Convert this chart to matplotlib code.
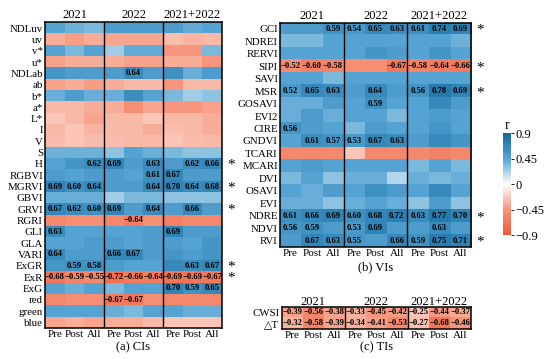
import numpy as np
import matplotlib
matplotlib.use("Agg")
import matplotlib.pyplot as plt
from matplotlib.colors import LinearSegmentedColormap

plt.rcParams['font.family'] = ['Liberation Serif', 'DejaVu Sans']

years = ['2021', '2022', '2021+2022']
stages = ['Pre', 'Post', 'All']

ci_labels = ['NDLuv', 'uv', 'v*', 'u*', 'NDLab', 'ab', 'b*', 'a*', 'L*', 'I', 'V', 'S', 'H',
             'RGBVI', 'MGRVI', 'GBVI', 'GRVI', 'RGRI', 'GLI', 'GLA', 'VARI', 'ExGR', 'ExR',
             'ExG', 'red', 'green', 'blue']
ci_vals = [
    [0.45, 0.38, 0.35, 0.50, 0.50, 0.50, 0.50, 0.42, 0.45],
    [-0.35, -0.42, -0.35, -0.38, -0.38, -0.38, -0.28, -0.32, -0.30],
    [0.45, 0.35, 0.45, 0.25, 0.42, 0.42, -0.45, -0.45, 0.35],
    [-0.40, -0.35, -0.35, -0.35, -0.40, -0.40, -0.35, -0.35, -0.45],
    [0.55, 0.50, 0.50, 0.50, 0.64, 0.50, 0.60, 0.40, 0.50],
    [-0.40, -0.35, -0.42, -0.35, -0.30, -0.30, -0.45, -0.30, -0.30],
    [0.40, 0.50, 0.40, 0.40, 0.62, 0.45, 0.35, 0.25, 0.30],
    [-0.30, -0.30, -0.35, -0.35, -0.50, -0.38, -0.45, -0.45, -0.40],
    [-0.25, -0.30, -0.38, -0.30, -0.30, -0.25, -0.30, -0.30, -0.35],
    [-0.30, -0.25, -0.32, -0.30, -0.30, -0.35, -0.28, -0.30, -0.35],
    [-0.28, -0.25, -0.28, -0.28, -0.30, -0.30, -0.25, -0.28, -0.30],
    [0.38, 0.38, 0.38, 0.30, 0.45, 0.40, 0.35, 0.30, 0.30],
    [0.45, 0.55, 0.62, 0.69, 0.50, 0.63, 0.50, 0.62, 0.66],
    [0.50, 0.45, 0.50, 0.50, 0.45, 0.61, 0.67, 0.50, 0.50],
    [0.69, 0.60, 0.64, 0.50, 0.50, 0.64, 0.70, 0.64, 0.68],
    [0.40, 0.40, 0.40, 0.25, 0.35, 0.35, 0.30, 0.30, 0.30],
    [0.67, 0.62, 0.60, 0.69, 0.50, 0.64, 0.50, 0.66, 0.50],
    [-0.55, -0.50, -0.50, -0.55, -0.64, -0.50, -0.60, -0.55, -0.55],
    [0.63, 0.45, 0.45, 0.45, 0.45, 0.50, 0.69, 0.50, 0.50],
    [0.45, 0.45, 0.50, 0.50, 0.45, 0.50, 0.50, 0.45, 0.55],
    [0.64, 0.50, 0.50, 0.66, 0.67, 0.50, 0.55, 0.50, 0.55],
    [0.55, 0.59, 0.58, 0.50, 0.45, 0.45, 0.65, 0.63, 0.67],
    [-0.68, -0.59, -0.55, -0.72, -0.66, -0.64, -0.69, -0.69, -0.67],
    [0.45, 0.40, 0.45, 0.35, 0.45, 0.45, 0.70, 0.59, 0.65],
    [-0.55, -0.50, -0.50, -0.67, -0.67, -0.50, -0.55, -0.55, -0.55],
    [0.45, 0.45, 0.45, 0.40, 0.35, 0.45, 0.45, 0.40, 0.40],
    [-0.38, -0.35, -0.38, -0.35, -0.35, -0.30, -0.25, -0.25, -0.25],
]
# 1 = value printed in the cell
ci_show = ['000000000', '000000000', '000000000', '000000000', '000010000', '000000000',
           '000000000', '000000000', '000000000', '000000000', '000000000', '000000000',
           '001101011', '000001100', '111001111', '000000000', '111101010', '000010000',
           '100000100', '000000000', '100110000', '011000011', '111111111', '000000111',
           '000110000', '000000000', '000000000']
ci_star = ['H', 'MGRVI', 'GRVI', 'ExGR', 'ExR']

vi_labels = ['GCI', 'NDREI', 'RERVI', 'SIPI', 'SAVI', 'MSR', 'GOSAVI', 'EVI2', 'CIRE', 'GNDVI',
             'TCARI', 'MCARI', 'DVI', 'OSAVI', 'EVI', 'NDRE', 'NDVI', 'RVI']
vi_vals = [
    [0.50, 0.50, 0.59, 0.54, 0.65, 0.63, 0.61, 0.74, 0.69],
    [0.35, 0.35, 0.45, 0.45, 0.45, 0.45, 0.45, 0.45, 0.38],
    [0.45, 0.45, 0.45, 0.45, 0.55, 0.50, 0.45, 0.55, 0.45],
    [-0.52, -0.60, -0.58, -0.50, -0.50, -0.67, -0.58, -0.64, -0.66],
    [0.45, 0.45, 0.35, 0.45, 0.45, 0.45, 0.45, 0.45, 0.45],
    [0.52, 0.65, 0.63, 0.50, 0.64, 0.50, 0.56, 0.78, 0.69],
    [0.40, 0.40, 0.50, 0.45, 0.59, 0.45, 0.45, 0.65, 0.50],
    [0.40, 0.50, 0.40, 0.45, 0.45, 0.35, 0.45, 0.50, 0.45],
    [0.56, 0.50, 0.45, 0.35, 0.50, 0.45, 0.45, 0.55, 0.45],
    [0.45, 0.61, 0.57, 0.53, 0.67, 0.63, 0.50, 0.65, 0.55],
    [-0.55, -0.55, -0.55, -0.25, -0.55, -0.55, -0.55, -0.60, -0.55],
    [0.45, 0.50, 0.45, 0.45, 0.45, 0.45, 0.35, 0.45, 0.35],
    [0.35, 0.45, 0.30, 0.40, 0.40, 0.20, 0.40, 0.35, 0.40],
    [0.45, 0.40, 0.50, 0.45, 0.60, 0.50, 0.45, 0.65, 0.45],
    [0.40, 0.40, 0.30, 0.40, 0.45, 0.40, 0.30, 0.50, 0.30],
    [0.61, 0.66, 0.69, 0.60, 0.68, 0.72, 0.63, 0.77, 0.70],
    [0.56, 0.59, 0.50, 0.53, 0.69, 0.50, 0.50, 0.63, 0.50],
    [0.50, 0.67, 0.63, 0.55, 0.50, 0.66, 0.59, 0.75, 0.71],
]
vi_show = ['001111111', '000000000', '000000000', '111001111', '000000000', '111010111',
           '000010000', '000000000', '100000000', '011111000', '000000000', '000000000',
           '000000000', '000000000', '000000000', '111111111', '110110010', '011101111']
vi_star = ['GCI', 'SIPI', 'MSR', 'NDRE', 'RVI']

ti_labels = ['CWSI', '\u25b3T']
ti_vals = [
    [-0.39, -0.56, -0.38, -0.33, -0.45, -0.42, -0.25, -0.44, -0.37],
    [-0.32, -0.58, -0.39, -0.34, -0.41, -0.53, -0.27, -0.68, -0.46],
]
ti_show = ['111111111', '111111111']

cmap = LinearSegmentedColormap.from_list(
    'rb', ['#EE5A3A', '#F7967C', '#FFFFFF', '#55A4D3', '#146A9E'])

fig = plt.figure(figsize=(5.5, 3.59), dpi=100)


def draw_panel(rect, labels, vals, show, stars, caption, cap_y, title_y):
    ax = fig.add_axes(rect)
    data = np.array(vals)
    ax.imshow(data, cmap=cmap, vmin=-0.9, vmax=0.9, aspect='auto', interpolation='nearest')
    nr, nc = data.shape
    for i in range(nr):
        for j in range(nc):
            if show[i][j] == '1':
                ax.text(j, i, f"{data[i, j]:.2f}".replace('-', '\u2212'), ha='center',
                        va='center', fontsize=6.2, fontweight='bold', color='black')
    for x in [2.5, 5.5]:
        ax.axvline(x, color='black', lw=1.0)
    for k, y in enumerate(years):
        ax.text(3 * k + 1, title_y, y, ha='center', va='bottom', fontsize=9)
    ax.set_yticks(range(nr))
    ax.set_yticklabels(labels, fontsize=7.8)
    ax.set_xticks(range(nc))
    ax.set_xticklabels(stages * 3, fontsize=8)
    ax.tick_params(length=0, pad=1.5)
    for s in ax.spines.values():
        s.set_linewidth(1.1)
    for name in stars:
        i = labels.index(name)
        ax.text(nc - 0.5 + 0.25, i + 0.42, '*', ha='left', va='baseline', fontsize=11,
                clip_on=False)
    ax.text(0.5, cap_y, caption, transform=ax.transAxes, ha='center', va='top', fontsize=9)
    return ax


ax1 = draw_panel([0.0818, 0.0864, 0.3218, 0.851], ci_labels, ci_vals, ci_show, ci_star,
                 '(a) CIs', -0.042, -0.6)
ax2 = draw_panel([0.509, 0.312, 0.3473, 0.6253], vi_labels, vi_vals, vi_show, vi_star,
                 '(b) VIs', -0.062, -0.55)
ax3 = draw_panel([0.512, 0.0836, 0.3436, 0.0613], ti_labels, ti_vals, ti_show, [],
                 '(c) TIs', -0.55, -0.45)

cax = fig.add_axes([0.9145, 0.3454, 0.0145, 0.284])
sm = plt.cm.ScalarMappable(cmap=cmap, norm=plt.Normalize(-0.9, 0.9))
cb = fig.colorbar(sm, cax=cax, ticks=[0.9, 0.45, 0, -0.45, -0.9])
cb.ax.set_yticklabels(['0.9', '0.45', '0', '\u22120.45', '\u22120.9'], fontsize=9)
cb.outline.set_visible(False)
cb.ax.tick_params(length=2, width=0.6, pad=1.5)
cax.set_title('r', fontsize=10, pad=3)

fig.savefig('out.png', dpi=100)
